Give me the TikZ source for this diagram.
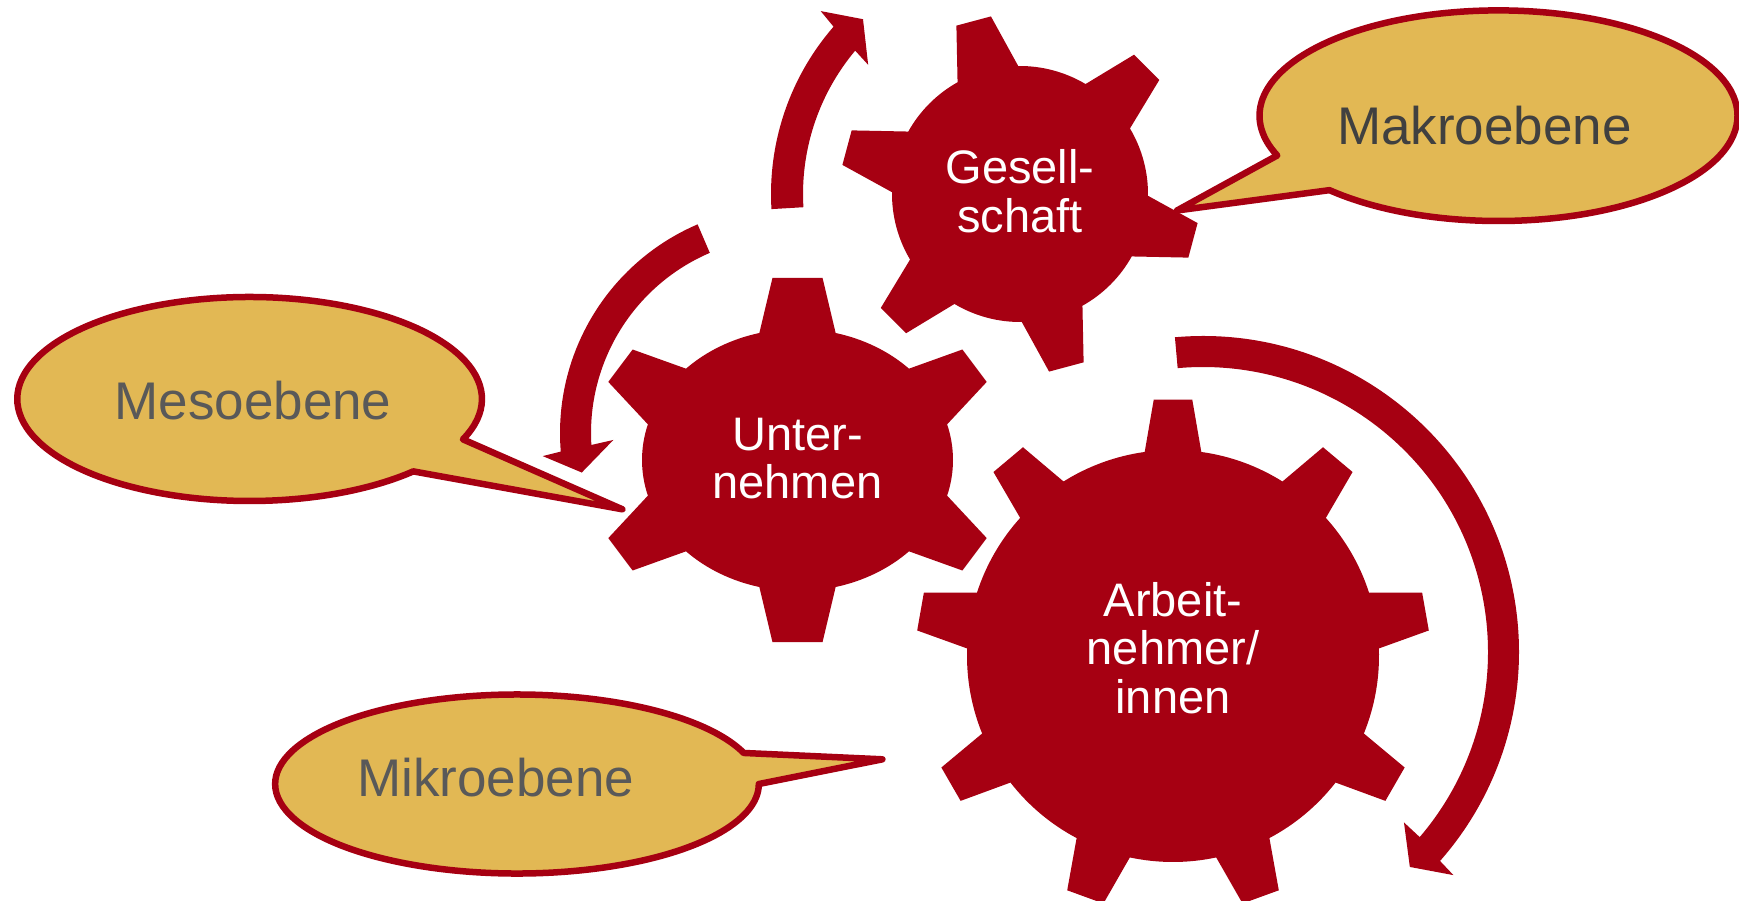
\documentclass[tikz,border=0pt]{standalone}
\usepackage{fontspec}
\setmainfont{Liberation Sans}
\definecolor{gearred}{RGB}{166,0,18}
\definecolor{gold}{RGB}{226,184,84}
\definecolor{txtgray}{RGB}{89,89,89}
\definecolor{txtdark}{RGB}{64,64,64}

% #1 center, #2 Rx, #3 Ry, #4 teeth, #5 first tooth angle, #6 base half angle, #7 tip half angle, #8 tip factor
\newcommand{\drawgear}[8]{%
  \pgfmathsetmacro\gtx{#2*#8}\pgfmathsetmacro\gty{#3*#8}%
  \pgfmathsetmacro\gst{#5+#6}%
  \fill[gearfill, shift={(#1)}]
    (\gst:{#2} and {#3})
    \foreach \i [evaluate=\i as \sa using #5+360*(\i-1)/#4+#6,
                 evaluate=\i as \ea using #5+360*\i/#4-#6,
                 evaluate=\i as \ta using #5+360*\i/#4-#7,
                 evaluate=\i as \tb using #5+360*\i/#4+#7,
                 evaluate=\i as \ba using #5+360*\i/#4+#6] in {1,...,#4}
    { arc[start angle=\sa, end angle=\ea, x radius=#2, y radius=#3]
      -- (\ta:{\gtx} and {\gty}) -- (\tb:{\gtx} and {\gty}) -- (\ba:{#2} and {#3}) }
    -- cycle;}

\tikzset{
  gearfill/.style={fill=gearred},
  arrowfill/.style={fill=gearred},
  bodyB/.style={x radius=155.5, y radius=131},
  callout/.style={fill=gold, draw=gearred, line width=6.5pt, line join=round},
  geartext/.style={text=white, anchor=base, inner sep=0pt,
    font=\fontsize{47}{48.8}\selectfont},
  callouttext/.style={anchor=base, inner sep=0pt,
    font=\fontsize{53}{60}\selectfont}
}

\begin{document}
\begin{tikzpicture}[x=1pt,y=1pt]
\useasboundingbox (0,0) rectangle (1739,-901);
\fill[white] (0,0) rectangle (1739,-901);

% centres
\coordinate (gA) at (1020,-194);
\coordinate (gB) at (797.5,-460);
\coordinate (gC) at (1173,-656);

% gears
\drawgear{gA}{128}{128}{6}{105}{14.2}{5.7}{1.406}
\drawgear{gC}{206}{206}{9}{90}{7.9}{4.3}{1.248}

\fill[gearfill, shift={(gB)}]
  (-15.8:155.5 and 131)
  arc[start angle=-15.8, end angle=15.8, bodyB]
  -- (26.1:210.7 and 177.5) -- (38.5:210.7 and 177.5) -- (44.2:155.5 and 131)
  arc[start angle=44.2, end angle=75.8, bodyB]
  -- (83.4:217.7 and 183.4) -- (96.6:217.7 and 183.4) -- (104.2:155.5 and 131)
  arc[start angle=104.2, end angle=135.8, bodyB]
  -- (141.5:210.7 and 177.5) -- (153.9:210.7 and 177.5) -- (164.2:155.5 and 131)
  arc[start angle=164.2, end angle=195.8, bodyB]
  -- (206.1:210.7 and 177.5) -- (218.5:210.7 and 177.5) -- (224.2:155.5 and 131)
  arc[start angle=224.2, end angle=255.8, bodyB]
  -- (263.4:217.7 and 183.4) -- (276.6:217.7 and 183.4) -- (284.2:155.5 and 131)
  arc[start angle=284.2, end angle=315.8, bodyB]
  -- (321.5:210.7 and 177.5) -- (333.9:210.7 and 177.5) -- (344.2:155.5 and 131)
  -- cycle;

% curved arrows
\fill[arrowfill, shift={(1026,-194)}]
  (183.4:255) arc[start angle=183.4, end angle=139.0, radius=255]
  -- (138.3:275) -- (133:239) -- (140.7:204) -- (140:223)
  arc[start angle=140, end angle=183.4, radius=223] -- cycle;

\fill[arrowfill, shift={(787,-433)}]
  (113.2:227) arc[start angle=113.2, end angle=184.7, radius=227]
  -- (185.4:245.4) -- (190.9:209) -- (182.3:173.8) -- (183.5:196)
  arc[start angle=183.5, end angle=113.2, radius=196] -- cycle;

\fill[arrowfill, shift={(1203,-652)}]
  (95.1:316) arc[start angle=95.1, end angle=-41.4, radius=316]
  -- (-41.7:335.4) -- (-46.1:298.3) -- (-40.3:263.5) -- (-40.5:285)
  arc[start angle=-40.5, end angle=95.1, radius=285] -- cycle;

% callouts
\filldraw[callout, shift={(249.6,-399)}]
  (-23.3:232.3 and 102) arc[start angle=-23.3, end angle=314.8, x radius=232.3, y radius=102]
  -- (372.8,-110.3) -- cycle;
\filldraw[callout, shift={(517,-784)}]
  (20.3:241.8 and 89.5) arc[start angle=20.3, end angle=360, x radius=241.8, y radius=89.5]
  -- (365.4,24.7) -- cycle;
\filldraw[callout, shift={(1498.5,-115.7)}]
  (225:239 and 105.3) arc[start angle=225, end angle=562.2, x radius=239, y radius=105.3]
  -- (-321.5,-94.8) -- cycle;

% texts
\node[geartext] (tA) at (1020,-183.3)
  {\begin{tabular}[t]{@{}c@{}}Gesell-\\schaft\end{tabular}};
\node[geartext] (tB) at (797.5,-450)
  {\begin{tabular}[t]{@{}c@{}}Unter-\\nehmen\end{tabular}};
\node[geartext] (tC) at (1173,-616)
  {\begin{tabular}[t]{@{}c@{}}Arbeit-\\nehmer/\\innen\end{tabular}};

\node[callouttext, text=txtgray] (meso) at (253,-419.3) {Mesoebene};
\node[callouttext, text=txtgray] (mikro) at (495.7,-796) {Mikroebene};
\node[callouttext, text=txtdark] (makro) at (1484.4,-144.3) {Makroebene};
\end{tikzpicture}
\end{document}
